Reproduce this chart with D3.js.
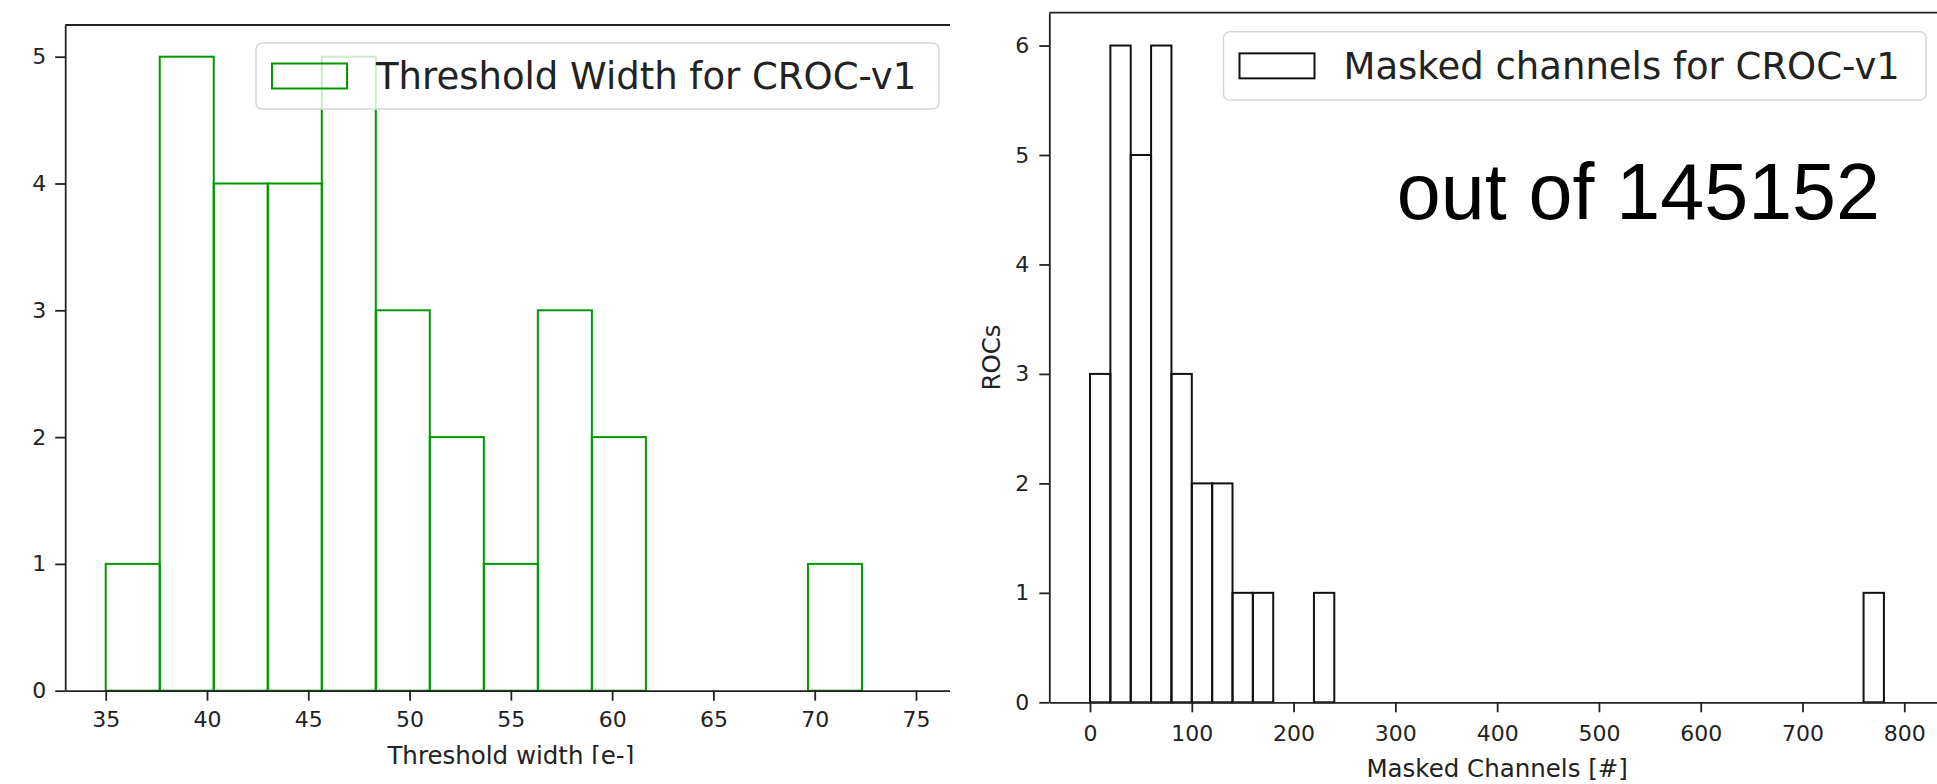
<!DOCTYPE html>
<html>
<head>
<meta charset="utf-8">
<script src="https://cdn.jsdelivr.net/npm/d3@7"></script>
<style>
  html, body { margin: 0; padding: 0; background: #fff; }
  svg { display: block; }
  text { font-family: "DejaVu Sans", sans-serif; fill: #222; }
</style>
</head>
<body>
<script>
// ---- Threshold width histogram (CROC-v1) ----
const thresholdEdges = [35, 37.667, 40.333, 43, 45.667, 48.333, 51, 53.667, 56.333,
                        59, 61.667, 64.333, 67, 69.667, 72.333, 75];
const thresholdCounts = [1, 5, 4, 4, 5, 3, 2, 1, 3, 2, 0, 0, 0, 1, 0];
const thresholdXTicks = [35, 40, 45, 50, 55, 60, 65, 70, 75];
const thresholdYTicks = [0, 1, 2, 3, 4, 5];

// ---- Masked channels histogram (CROC-v1) ----
const maskedEdges = [0, 20, 40, 60, 80, 100, 120, 140, 160, 180, 200, 220, 240, 260, 280,
                     300, 320, 340, 360, 380, 400, 420, 440, 460, 480, 500, 520, 540, 560,
                     580, 600, 620, 640, 660, 680, 700, 720, 740, 760, 780, 800];
const maskedCounts = [3, 6, 5, 6, 3, 2, 2, 1, 1, 0, 0, 1, 0, 0, 0, 0, 0, 0, 0, 0,
                      0, 0, 0, 0, 0, 0, 0, 0, 0, 0, 0, 0, 0, 0, 0, 0, 0, 0, 1, 0];
const maskedXTicks = [0, 100, 200, 300, 400, 500, 600, 700, 800];
const maskedYTicks = [0, 1, 2, 3, 4, 5, 6];

const W = 1937, H = 784;
const svg = d3.select("body").append("svg").attr("width", W).attr("height", H);
const defs = svg.append("defs");
const fmt = d3.format("d");

function histPanel(opt) {
  defs.append("clipPath").attr("id", opt.id + "-clip")
    .append("rect").attr("x", opt.clip[0]).attr("y", opt.clip[1])
    .attr("width", opt.clip[2]).attr("height", opt.clip[3]);
  const g = svg.append("g").attr("clip-path", `url(#${opt.id}-clip)`);

  const x = d3.scaleLinear().domain(opt.xDomain).range([opt.left, opt.right]);
  const y = d3.scaleLinear().domain(opt.yDomain).range([opt.bottom, opt.top]);

  const bins = opt.counts.map((c, i) => ({ x0: opt.edges[i], x1: opt.edges[i + 1], c }))
    .filter(d => d.c > 0);

  g.append("g").selectAll("rect").data(bins).join("rect")
    .attr("x", d => x(d.x0))
    .attr("y", d => y(d.c))
    .attr("width", d => x(d.x1) - x(d.x0))
    .attr("height", d => y(0) - y(d.c))
    .attr("fill", "none")
    .attr("stroke", opt.color)
    .attr("stroke-width", 2);

  // x axis
  const xa = g.append("g").attr("transform", `translate(0,${opt.bottom})`)
    .call(d3.axisBottom(x).tickValues(opt.xTicks).tickFormat(fmt).tickSize(10).tickSizeOuter(0));
  xa.selectAll("text").attr("dy", null).attr("y", opt.xTickY)
    .style("font-size", "22px").style("font-family", "DejaVu Sans");
  xa.selectAll(".tick line").attr("stroke", "#222").attr("stroke-width", 1.8);
  xa.select(".domain").attr("stroke", "#222").attr("stroke-width", 1.8);

  // y axis
  const ya = g.append("g").attr("transform", `translate(${opt.left},0)`)
    .call(d3.axisLeft(y).tickValues(opt.yTicks).tickFormat(fmt).tickSize(10)
      .tickPadding(opt.yPad).tickSizeOuter(0));
  ya.selectAll("text").style("font-size", "22px").style("font-family", "DejaVu Sans");
  ya.selectAll(".tick line").attr("stroke", "#222").attr("stroke-width", 1.8);
  ya.select(".domain").attr("stroke", "#222").attr("stroke-width", 1.8);

  // top spine
  g.append("line").attr("x1", opt.left).attr("x2", opt.right)
    .attr("y1", opt.top).attr("y2", opt.top)
    .attr("stroke", "#222").attr("stroke-width", 1.8);

  // x label
  g.append("text").attr("x", (opt.left + opt.right) / 2).attr("y", opt.xLabelY)
    .attr("text-anchor", "middle").style("font-size", "24.5px").text(opt.xLabel);

  if (opt.yLabel) {
    g.append("text")
      .attr("transform", `translate(${opt.yLabelX},${(opt.top + opt.bottom) / 2}) rotate(-90)`)
      .attr("text-anchor", "middle").style("font-size", "24.5px").text(opt.yLabel);
  }

  // legend
  const L = opt.legend;
  const lg = g.append("g");
  lg.append("rect").attr("x", L.x).attr("y", L.y).attr("width", L.w).attr("height", L.h)
    .attr("rx", 6).attr("fill", "#fff").attr("fill-opacity", 0.8)
    .attr("stroke", "#d6d6d6").attr("stroke-width", 1.5);
  lg.append("rect").attr("x", L.x + 16).attr("y", L.y + L.h / 2 - 12.5)
    .attr("width", 75).attr("height", 25)
    .attr("fill", "none").attr("stroke", opt.color).attr("stroke-width", 2);
  lg.append("text").attr("x", L.x + 120).attr("y", L.y + L.h / 2 + 13)
    .style("font-size", "37px").text(L.label);

  return { g, x, y };
}

histPanel({
  id: "thr", clip: [0, 0, 950, 764],
  edges: thresholdEdges, counts: thresholdCounts,
  xDomain: [33, 77], yDomain: [0, 5.25],
  left: 65.2, right: 956.5, top: 25, bottom: 690.7,
  xTicks: thresholdXTicks, yTicks: thresholdYTicks,
  xTickY: 36.5, yPad: 9,
  color: "#009a00",
  xLabel: "Threshold width [e-]", xLabelY: 764,
  legend: { x: 256, y: 43, w: 683, h: 66, label: "Threshold Width for CROC-v1" }
});

const right = histPanel({
  id: "msk", clip: [960, 0, 977, 784],
  edges: maskedEdges, counts: maskedCounts,
  xDomain: [-40, 840], yDomain: [0, 6.3],
  left: 1049.3, right: 1945, top: 12.7, bottom: 702.3,
  xTicks: maskedXTicks, yTicks: maskedYTicks,
  xTickY: 38.5, yPad: 10,
  color: "#111",
  xLabel: "Masked Channels [#]", xLabelY: 776.5,
  yLabel: "ROCs", yLabelX: 1000,
  legend: { x: 1223.5, y: 31.7, w: 702.5, h: 68.3, label: "Masked channels for CROC-v1" }
});

// total channel count annotation
right.g.append("text")
  .attr("x", 1880).attr("y", 218.5)
  .attr("text-anchor", "end")
  .style("font-family", "'Liberation Sans', Arial, sans-serif")
  .style("font-size", "79px")
  .style("fill", "#000")
  .text("out of 145152");
</script>
</body>
</html>
